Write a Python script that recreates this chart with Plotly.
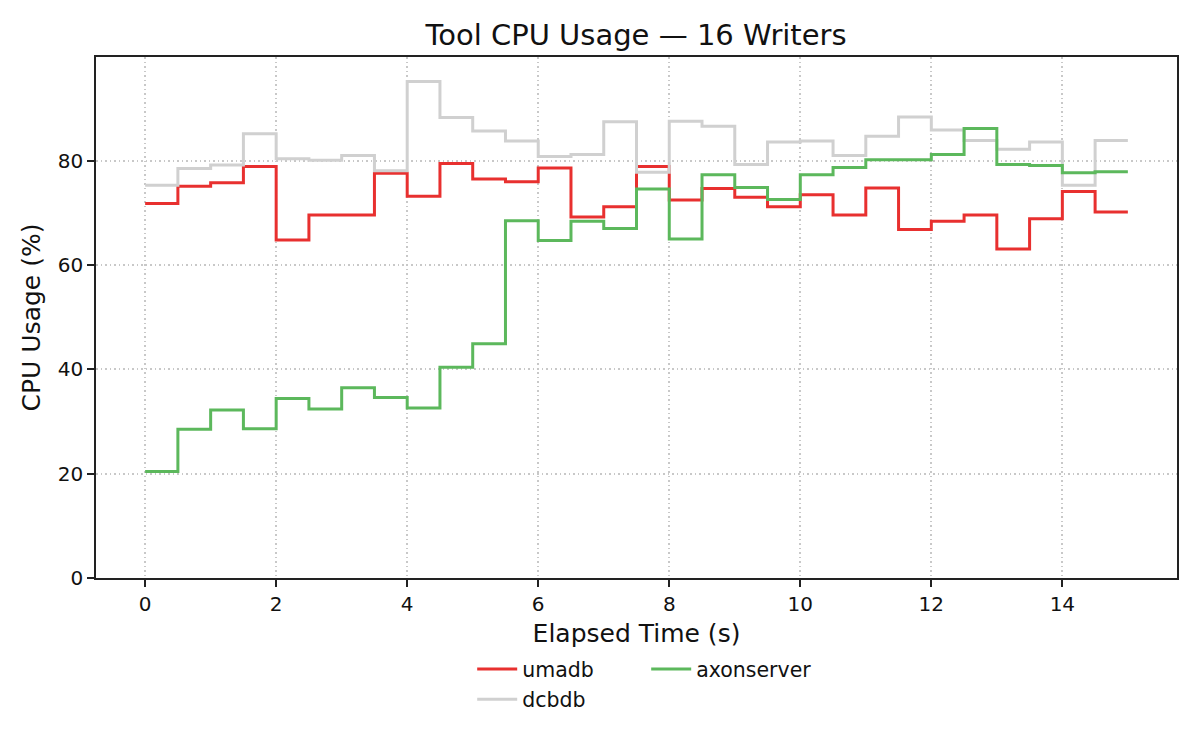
import plotly.graph_objects as go

# elapsed time (s), sampled every 0.5 s
elapsed = [0, 0.5, 1, 1.5, 2, 2.5, 3, 3.5, 4, 4.5, 5, 5.5, 6, 6.5, 7, 7.5,
           8, 8.5, 9, 9.5, 10, 10.5, 11, 11.5, 12, 12.5, 13, 13.5, 14, 14.5, 15]

# CPU usage (%) per tool
umadb = [71.8, 75.1, 75.8, 78.9, 64.8, 69.6, 69.6, 77.6, 73.2, 79.5, 76.5,
         76.0, 78.6, 69.2, 71.2, 78.9, 72.5, 74.7, 73.0, 71.2, 73.5, 69.6,
         74.8, 66.8, 68.4, 69.6, 63.1, 68.9, 74.1, 70.2, 70.2]
dcbdb = [75.3, 78.5, 79.2, 85.2, 80.4, 80.1, 81.0, 78.1, 95.2, 88.3, 85.7,
         83.8, 80.8, 81.2, 87.5, 77.8, 87.6, 86.6, 79.3, 83.6, 83.8, 81.0,
         84.7, 88.4, 85.9, 83.9, 82.2, 83.6, 75.3, 83.9, 83.9]
axonserver = [20.4, 28.5, 32.2, 28.6, 34.4, 32.4, 36.5, 34.6, 32.6, 40.4, 44.9,
              68.5, 64.7, 68.4, 67.0, 74.6, 65.0, 77.3, 74.9, 72.6, 77.3, 78.7,
              80.2, 80.2, 81.2, 86.2, 79.3, 79.1, 77.7, 77.9, 77.9]

x_ticks = [0, 2, 4, 6, 8, 10, 12, 14]
y_ticks = [0, 20, 40, 60, 80]

FONT = "DejaVu Sans"
AXIS_COLOR = "#222222"

fig = go.Figure()

fig.add_trace(go.Scatter(x=elapsed, y=umadb, name="umadb", mode="lines",
                         line=dict(color="#e8302f", width=3, shape="hv"),
                         legend="legend"))
fig.add_trace(go.Scatter(x=elapsed, y=dcbdb, name="dcbdb", mode="lines",
                         line=dict(color="#d0d0d0", width=3, shape="hv"),
                         legend="legend2"))
fig.add_trace(go.Scatter(x=elapsed, y=axonserver, name="axonserver", mode="lines",
                         line=dict(color="#5cb85c", width=3, shape="hv"),
                         legend="legend"))

axis_common = dict(
    showline=True, linecolor=AXIS_COLOR, linewidth=1.6, mirror=True,
    ticks="outside", ticklen=7, tickwidth=1.6, tickcolor=AXIS_COLOR,
    showgrid=True, gridcolor="#c8c8c8", gridwidth=1.5, griddash="1.7px,2.8px",
    zeroline=False, tickfont=dict(size=20, color="#111111"),
)

fig.update_xaxes(
    range=[-0.75, 15.75], tickvals=x_ticks,
    title=dict(text="Elapsed Time (s)", font=dict(size=25, color="#111111"), standoff=10),
    **axis_common,
)
fig.update_yaxes(
    range=[0, 99.9], tickvals=y_ticks,
    title=dict(text="CPU Usage (%)", font=dict(size=25, color="#111111"), standoff=10),
    **axis_common,
)

legend_common = dict(
    orientation="h", xanchor="left", yanchor="middle",
    font=dict(size=20.5, color="#111111"), bgcolor="rgba(0,0,0,0)",
    itemwidth=40,
)

# the page body adds an 8px offset, so margins are shifted to compensate
fig.update_layout(
    width=1200, height=750,
    margin=dict(l=88, r=31, t=49, b=180),
    paper_bgcolor="white", plot_bgcolor="white",
    font=dict(family=FONT, color="#111111"),
    title=dict(text="Tool CPU Usage — 16 Writers", x=(636 - 8) / 1200, xanchor="center",
               y=1 - 27 / 750, yanchor="middle", yref="container",
               font=dict(size=29, color="#111111")),
    legend=dict(x=0.348, y=-0.175, entrywidth=119, **legend_common),
    legend2=dict(x=0.348, y=-0.233, **legend_common),
)

fig.write_html("out.html")
